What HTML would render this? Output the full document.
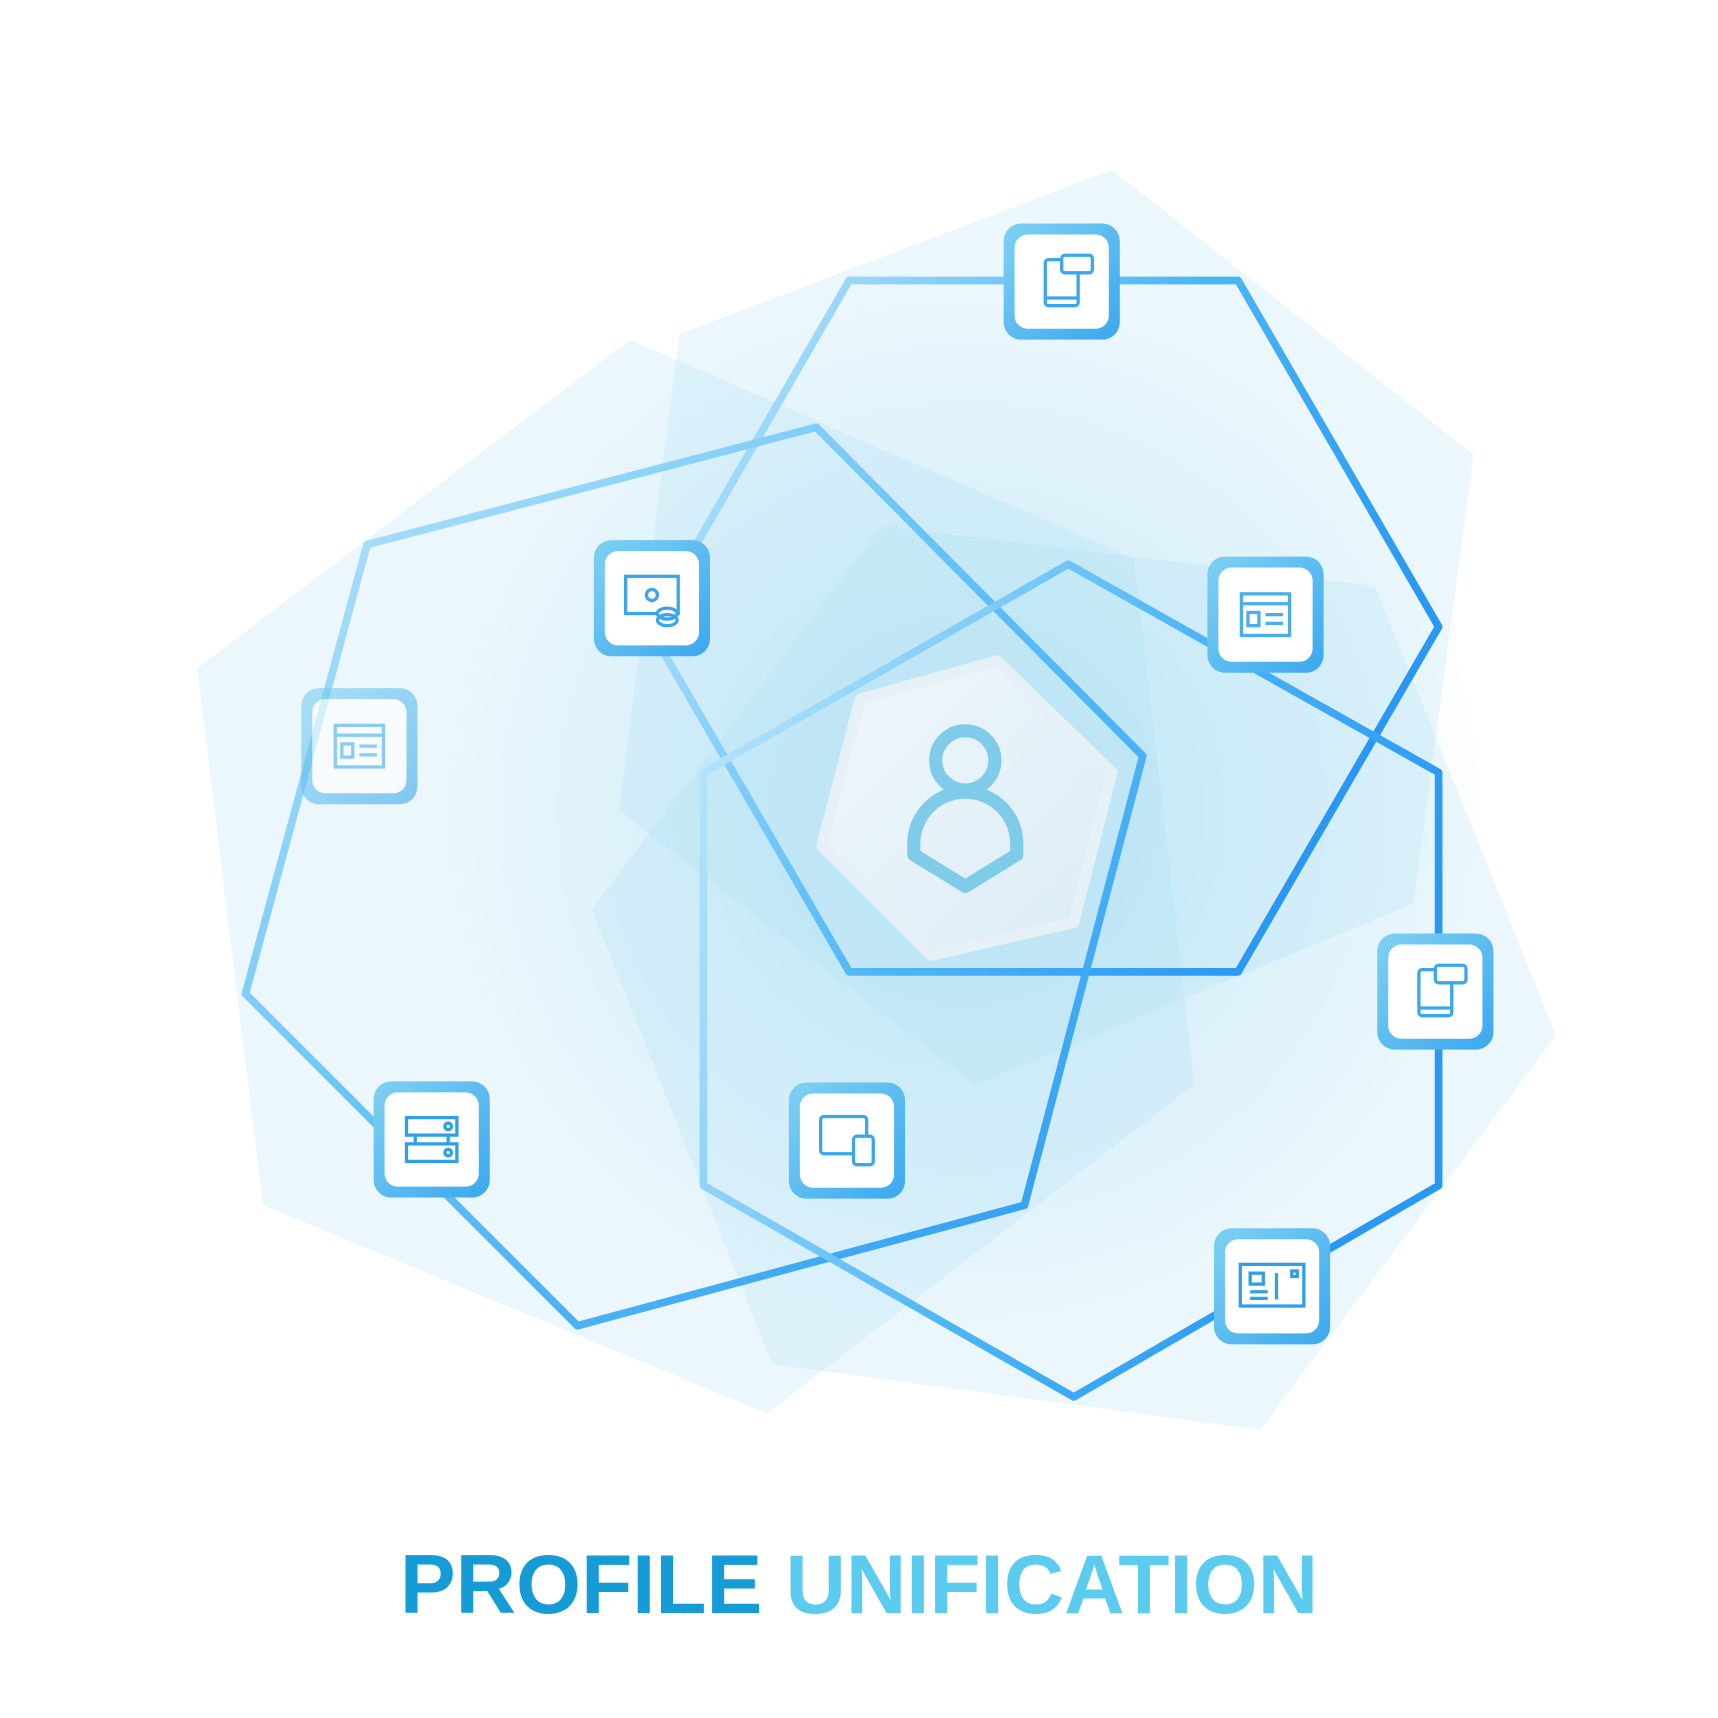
<!DOCTYPE html>
<html><head><meta charset="utf-8"><style>
html,body{margin:0;padding:0;background:#fff;}
svg{display:block}
</style></head><body>
<svg width="1718" height="1718" viewBox="0 0 1568 1568" xmlns="http://www.w3.org/2000/svg">
<defs>
<radialGradient id="glow" cx="880" cy="740" r="480" gradientUnits="userSpaceOnUse">
<stop offset="0" stop-color="#9fd9f2" stop-opacity="0.5"/>
<stop offset="1" stop-color="#9fd9f2" stop-opacity="0"/>
</radialGradient>
<linearGradient id="ln" x1="0" y1="0" x2="1" y2="1">
<stop offset="0" stop-color="#bfe6fb"/><stop offset="0.5" stop-color="#5cc0f5"/><stop offset="1" stop-color="#2a98f2"/>
</linearGradient>
<linearGradient id="ln2" x1="0" y1="0" x2="1" y2="0.4">
<stop offset="0" stop-color="#c5eafb"/><stop offset="0.6" stop-color="#4cb6f5"/><stop offset="1" stop-color="#2a98f2"/>
</linearGradient>
<linearGradient id="box" x1="0" y1="0" x2="1" y2="1">
<stop offset="0" stop-color="#7fd1f2"/><stop offset="1" stop-color="#3aa8ef"/>
</linearGradient>
<linearGradient id="hexc" x1="0" y1="0" x2="1" y2="1">
<stop offset="0" stop-color="#f2f7fb"/><stop offset="1" stop-color="#d9ebf6"/>
</linearGradient>
</defs>
<rect width="1568" height="1568" fill="#fff"/>
<g>
<polygon points="1015,155 1345,415 1290,825 890,990 565,740 620,305" fill="#b8e3f5" fill-opacity="0.28"/>
<polygon points="575,310 1035,510 1090,990 700,1290 240,1100 180,610" fill="#b8e3f5" fill-opacity="0.28"/>
<polygon points="805,480 1255,535 1420,945 1150,1305 705,1245 540,830" fill="#b8e3f5" fill-opacity="0.28"/>
</g>
<circle cx="880" cy="740" r="480" fill="url(#glow)"/>
<g fill="none" stroke-width="7" stroke-linejoin="round">
<polygon points="775,256 1130,256 1313,572 1130,887 775,887 592,572" stroke="url(#ln2)"/>
<polygon points="745,390 1043,690 935,1100 527,1210 224,907 335,497" stroke="url(#ln)"/>
<polygon points="975,515 1313,705 1313,1082 980,1275 642,1082 642,705" stroke="url(#ln2)"/>
</g>
<polygon points="910,603 1015,705 980,842 850,872 750,772 785,638" fill="url(#hexc)" stroke="#e6f0f7" stroke-width="10" stroke-linejoin="round"/>
<g fill="none" stroke="#7fcbea" stroke-width="12" stroke-linejoin="round">
<circle cx="881" cy="694" r="27"/>
<path d="M834,780 L834,770 A47,47 0 0 1 928,770 L928,780 L881,809 Z"/>
</g>
<g id="boxes">
<g transform="translate(969,257)"><rect x="-53" y="-53" width="106" height="106" rx="16" fill="url(#box)"/><rect x="-43" y="-43" width="86" height="86" rx="12" fill="#fff"/>
<g fill="none" stroke="#3aa6ee" stroke-width="3"><rect x="-15" y="-20" width="30" height="42" rx="3"/><line x1="-15" y1="15" x2="15" y2="15"/><rect x="0" y="-24" width="28" height="16" rx="3" fill="#fff"/></g></g>
<g transform="translate(595,546)"><rect x="-53" y="-53" width="106" height="106" rx="16" fill="url(#box)"/><rect x="-43" y="-43" width="86" height="86" rx="12" fill="#fff"/>
<g fill="none" stroke="#3aa6ee" stroke-width="3"><rect x="-24" y="-20" width="48" height="34"/><circle cx="0" cy="-3" r="5"/><ellipse cx="14" cy="14" rx="9" ry="5" fill="#fff"/><ellipse cx="14" cy="20" rx="9" ry="5"/></g></g>
<g transform="translate(1155,561)"><rect x="-53" y="-53" width="106" height="106" rx="16" fill="url(#box)"/><rect x="-43" y="-43" width="86" height="86" rx="12" fill="#fff"/>
<g fill="none" stroke="#4aaeee" stroke-width="3"><rect x="-22" y="-19" width="44" height="38"/><line x1="-22" y1="-10" x2="22" y2="-10"/><rect x="-16" y="-2" width="10" height="12"/><line x1="0" y1="0" x2="16" y2="0"/><line x1="0" y1="8" x2="16" y2="8"/></g></g>
<g transform="translate(328,681)" opacity="0.6"><rect x="-53" y="-53" width="106" height="106" rx="16" fill="url(#box)"/><rect x="-43" y="-43" width="86" height="86" rx="12" fill="#fff"/>
<g fill="none" stroke="#4aaeee" stroke-width="3"><rect x="-22" y="-19" width="44" height="38"/><line x1="-22" y1="-10" x2="22" y2="-10"/><rect x="-16" y="-2" width="10" height="12"/><line x1="0" y1="0" x2="16" y2="0"/><line x1="0" y1="8" x2="16" y2="8"/></g></g>
<g transform="translate(1310,905)"><rect x="-53" y="-53" width="106" height="106" rx="16" fill="url(#box)"/><rect x="-43" y="-43" width="86" height="86" rx="12" fill="#fff"/>
<g fill="none" stroke="#3aa6ee" stroke-width="3"><rect x="-15" y="-20" width="30" height="42" rx="3"/><line x1="-15" y1="15" x2="15" y2="15"/><rect x="0" y="-24" width="28" height="16" rx="3" fill="#fff"/></g></g>
<g transform="translate(394,1040)"><rect x="-53" y="-53" width="106" height="106" rx="16" fill="url(#box)"/><rect x="-43" y="-43" width="86" height="86" rx="12" fill="#fff"/>
<g fill="none" stroke="#2f9fe8" stroke-width="3"><rect x="-23" y="-20" width="46" height="16"/><rect x="-23" y="4" width="46" height="16"/><line x1="-15" y1="-4" x2="-15" y2="4"/><line x1="15" y1="-4" x2="15" y2="4"/><circle cx="15" cy="-12" r="3"/><circle cx="15" cy="12" r="3"/></g></g>
<g transform="translate(773,1041)"><rect x="-53" y="-53" width="106" height="106" rx="16" fill="url(#box)"/><rect x="-43" y="-43" width="86" height="86" rx="12" fill="#fff"/>
<g fill="none" stroke="#3aa6ee" stroke-width="3"><rect x="-24" y="-22" width="42" height="34" rx="3"/><rect x="6" y="-4" width="18" height="26" rx="3" fill="#fff"/></g></g>
<g transform="translate(1161,1174)"><rect x="-53" y="-53" width="106" height="106" rx="16" fill="url(#box)"/><rect x="-43" y="-43" width="86" height="86" rx="12" fill="#fff"/>
<g fill="none" stroke="#2f9fe8" stroke-width="3"><rect x="-29" y="-20" width="58" height="38"/><rect x="-20" y="-12" width="12" height="10"/><line x1="-20" y1="5" x2="-4" y2="5"/><line x1="-20" y1="11" x2="-4" y2="11"/><line x1="4" y1="-12" x2="4" y2="12"/><rect x="18" y="-14" width="5" height="5"/></g></g>
</g>
<text x="784" y="1472" text-anchor="middle" font-family="Liberation Sans, sans-serif" font-weight="bold" font-size="76" textLength="838" lengthAdjust="spacingAndGlyphs"><tspan fill="#159bd6">PROFILE </tspan><tspan fill="#5ccbf0">UNIFICATION</tspan></text>
</svg>
</body></html>
